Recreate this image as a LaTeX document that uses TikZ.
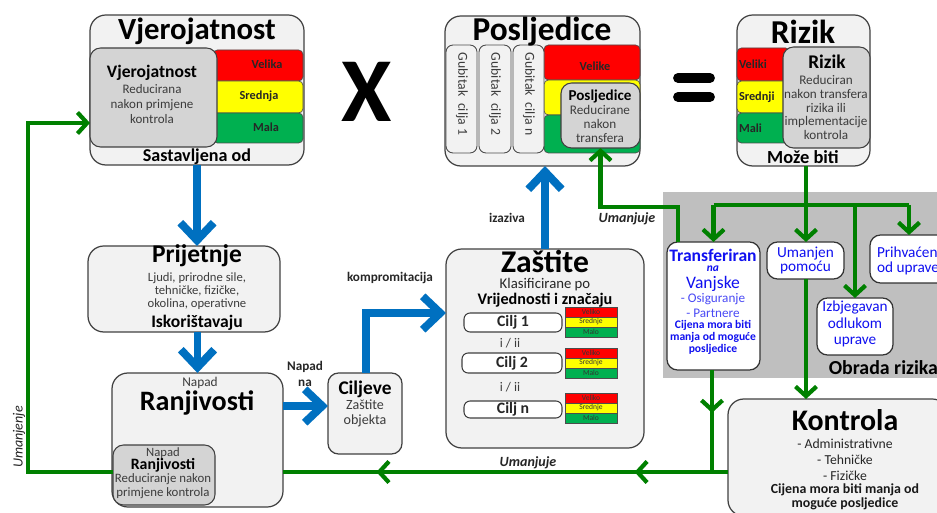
\documentclass[tikz,border=0pt]{standalone}
\usepackage{fontspec}
\setmainfont{Carlito}
\usetikzlibrary{arrows.meta,fit,decorations.markings}

\definecolor{panelfill}{HTML}{F2F2F2}
\definecolor{innerfill}{HTML}{D4D4D4}
\definecolor{barred}{HTML}{FF0000}
\definecolor{baryellow}{HTML}{FFFF00}
\definecolor{bargreen}{HTML}{00B050}
\definecolor{zonegray}{HTML}{BFBFBF}
\definecolor{flowblue}{HTML}{0070C0}
\definecolor{flowgreen}{HTML}{008000}
\definecolor{txtblue}{HTML}{1010F0}
\definecolor{txtlightblue}{HTML}{4A4AF5}
\definecolor{txtgray}{HTML}{3C3C3C}

\newcommand\setfs[2]{\fontsize{#1}{#2}\selectfont}

\tikzset{
  panel/.style={draw=black!75, line width=0.7pt, fill=panelfill, rounded corners=9pt, inner sep=0pt, outer sep=0pt},
  innerbox/.style={draw=black!75, line width=0.6pt, fill=innerfill, rounded corners=6pt, inner sep=0pt, outer sep=0pt},
  bar/.style={draw=black!70, line width=0.4pt, rounded corners=2.5pt, inner sep=0pt, outer sep=0pt},
  minibar/.style={draw=black!70, line width=0.3pt, inner sep=0pt, outer sep=0pt},
  gub/.style={draw=black!70, line width=0.5pt, fill=panelfill, rounded corners=4pt, inner sep=0pt, outer sep=0pt},
  whitebox/.style={draw=black!80, line width=0.7pt, fill=white, rounded corners=6pt, inner sep=0pt, outer sep=0pt},
  ciljbox/.style={draw=black!75, line width=0.6pt, fill=white, rounded corners=3.5pt, inner sep=0pt, outer sep=0pt},
  zone/.style={fill=zonegray, inner sep=0pt, outer sep=0pt},
  title/.style={inner sep=0pt, outer sep=0pt, align=center, text=black},
  txt/.style={inner sep=0pt, outer sep=0pt, align=center, text=txtgray},
  barlbl/.style={inner sep=0pt, outer sep=0pt, font=\bfseries\setfs{7}{8}, text=black!85},
  minilbl/.style={inner sep=0pt, outer sep=0pt, font=\setfs{4.3}{5}, text=black!80},
  flowlbl/.style={inner sep=0pt, outer sep=0pt, align=center, font=\bfseries\setfs{7.5}{9}, text=black!85},
  bluetxt/.style={inner sep=0pt, outer sep=0pt, align=center, text=txtblue},
  bluearrow/.style={draw=flowblue, color=flowblue, line width=4.5pt, -{Straight Barb[length=10pt,width=19pt]}},
  greenline/.style={draw=flowgreen, color=flowgreen, line width=2.4pt},
  greenarrow/.style={greenline, -{Straight Barb[length=5.5pt,width=12pt]}},
  midarrows/.style 2 args={postaction={decorate}, decoration={markings,
      mark=at position #1 with {\arrow{Straight Barb[length=5.5pt,width=12pt]}},
      mark=at position #2 with {\arrow{Straight Barb[length=5.5pt,width=12pt]}}}},
  midarrow/.style={postaction={decorate}, decoration={markings,
      mark=at position #1 with {\arrow{Straight Barb[length=5.5pt,width=12pt]}}}}
}

\begin{document}
\begin{tikzpicture}[x=0.02cm, y=-0.02cm]
\useasboundingbox (0,0) rectangle (937,513);

% risk treatment zone
\node[zone, fit={(663,192) (945,378)}] (zone) {};
\node[title, anchor=east, font=\bfseries\setfs{11.3}{13}] (zone-t) at (938,368) {Obrada rizika};

% ---------- Vjerojatnost ----------
\node[panel, fit={(90,15) (304,165)}] (vjer) {};
\node[bar, fill=barred, fit={(213,50) (303,81)}] (vred) {};
\node[bar, fill=baryellow, fit={(213,81) (303,113)}] (vyel) {};
\node[bar, fill=bargreen, fit={(213,113) (303,143)}] (vgrn) {};
\node[innerbox, fit={(90,48) (217,147)}] (vinner) {};
\node[title, font=\bfseries\setfs{17.5}{20}] (vjer-t) at (197,31) {Vjerojatnost};
\node[title, font=\bfseries\setfs{10.3}{12}] (vjer-b) at (197,157) {Sastavljena od};
\node[title, font=\bfseries\setfs{10}{12}] (vin-t) at (152,73) {Vjerojatnost};
\node[txt, font=\setfs{7.4}{8.3}] (vin-d) at (152,104) {Reducirana\\nakon primjene\\kontrola};
\node[barlbl] (vred-t) at (267,64) {Velika};
\node[barlbl] (vyel-t) at (259,96) {Srednja};
\node[barlbl] (vgrn-t) at (266,127) {Mala};

% multiplication and equality signs
\node[title, font=\bfseries\setfs{52}{52}] (times) at (367,92) {X};
\draw[line width=5.6pt, line cap=round] (678,78) -- (710,78) (678,97) -- (710,97);

% ---------- Posljedice ----------
\node[panel, fit={(445,16) (640,166)}] (posl) {};
\node[bar, fill=barred, fit={(544,45) (640,80)}] (pred) {};
\node[bar, fill=baryellow, fit={(544,80) (640,115)}] (pyel) {};
\node[bar, fill=bargreen, fit={(544,115) (640,153)}] (pgrn) {};
\node[gub, fit={(446,45) (477,153)}] (g1) {};
\node[gub, fit={(479,45) (511,153)}] (g2) {};
\node[gub, fit={(513,45) (544,153)}] (g3) {};
\node[txt, rotate=-90, font=\setfs{7.8}{9}] (g1-t) at (462,94) {Gubitak\enspace cilja 1};
\node[txt, rotate=-90, font=\setfs{7.8}{9}] (g2-t) at (495,94) {Gubitak\enspace cilja 2};
\node[txt, rotate=-90, font=\setfs{7.8}{9}] (g3-t) at (529,94) {Gubitak\enspace cilja n};
\node[innerbox, fit={(561,83) (640,148)}] (pinner) {};
\node[title, font=\bfseries\setfs{19}{21}] (posl-t) at (542,32) {Posljedice};
\node[barlbl] (pred-t) at (595,66) {Velike};
\node[title, font=\bfseries\setfs{8.6}{10}] (pin-t) at (600,96) {Posljedice};
\node[txt, font=\setfs{7.5}{8}] (pin-d) at (600,124) {Reducirane\\nakon\\transfera};

% ---------- Rizik ----------
\node[panel, fit={(737,15) (870,166)}] (rizik) {};
\node[bar, fill=barred, fit={(737,48) (790,81)}] (rred) {};
\node[bar, fill=baryellow, fit={(737,81) (790,113)}] (ryel) {};
\node[bar, fill=bargreen, fit={(737,113) (790,143)}] (rgrn) {};
\node[innerbox, fit={(783,47) (870,148)}] (rinner) {};
\node[title, font=\bfseries\setfs{19}{21}] (rizik-t) at (803,32) {Rizik};
\node[barlbl, anchor=west] (rred-t) at (739,64) {Veliki};
\node[barlbl, anchor=west] (ryel-t) at (739,97) {Srednji};
\node[barlbl, anchor=west] (rgrn-t) at (739,128) {Mali};
\node[title, font=\bfseries\setfs{11}{12}] (rin-t) at (827,62) {Rizik};
\node[txt, font=\setfs{7.5}{7.8}] (rin-d) at (826,107.5) {Reduciran\\nakon transfera\\rizika ili\\implementacije\\kontrola};
\node[title, font=\bfseries\setfs{10.5}{12}] (rizik-b) at (803,157) {Može biti};

% ---------- Prijetnje ----------
\node[panel, fit={(88,246) (280,332)}] (prij) {};
\node[title, font=\bfseries\setfs{14.5}{16}] (prij-t) at (197,256) {Prijetnje};
\node[txt, font=\setfs{7.2}{7.4}] (prij-d) at (197,291) {Ljudi, prirodne sile,\\tehničke, fizičke,\\okolina, operativne};
\node[title, font=\bfseries\setfs{10}{12}] (prij-b) at (197,323) {Iskorištavaju};

% ---------- Ranjivosti ----------
\node[panel, fit={(112,373) (283,507)}] (ranj) {};
\node[txt, font=\setfs{7.6}{9}] (ranj-n) at (200,383) {Napad};
\node[title, font=\bfseries\setfs{16}{18}] (ranj-t) at (197,403) {Ranjivosti};
\node[innerbox, fit={(113,445) (215,505)}] (rjinner) {};
\node[txt, font=\setfs{7.2}{9}] (rji-n) at (163,453) {Napad};
\node[title, font=\bfseries\setfs{9}{10}] (rji-t) at (163,465) {Ranjivosti};
\node[txt, font=\setfs{7.3}{8}] (rji-d) at (163,486) {Reduciranje nakon\\primjene kontrola};

% ---------- Ciljeve ----------
\node[panel, rounded corners=6pt, fit={(328,373) (402,454)}] (cilj) {};
\node[title, font=\bfseries\setfs{11}{12}] (cilj-t) at (365,389) {Ciljeve};
\node[txt, font=\setfs{8}{8.5}] (cilj-d) at (365,413.5) {Zaštite\\objekta};

% ---------- Zaštite ----------
\node[panel, fit={(446,249) (644,448)}] (zast) {};
\node[title, font=\bfseries\setfs{18}{20}] (zast-t) at (545,261) {Zaštite};
\node[txt, text=black!85, font=\setfs{8.4}{10}] (zast-k) at (545,285) {Klasificirane po};
\node[title, font=\bfseries\setfs{9.2}{11}] (zast-v) at (545,300.5) {Vrijednosti i značaju};
\node[ciljbox, fit={(464,313) (562,332)}] (c1) {};
\node[ciljbox, fit={(462,353) (562,373)}] (c2) {};
\node[ciljbox, fit={(464,401) (562,418)}] (cn) {};
\node[title, text=black!85, font=\bfseries\setfs{9}{10}] at (c1) (c1-t) {Cilj 1};
\node[title, text=black!85, font=\bfseries\setfs{9}{10}] at (c2) (c2-t) {Cilj 2};
\node[title, text=black!85, font=\bfseries\setfs{9}{10}] at (cn) (cn-t) {Cilj n};
\node[txt, font=\setfs{7.5}{9}] (or1) at (510,343) {i / ii};
\node[txt, font=\setfs{7.5}{9}] (or2) at (510,387) {i / ii};
\foreach \k/\y in {1/307, 2/348, 3/393} {
  \node[minibar, fill=barred, fit={(565,\y) (617,\y+10)}] (m\k a) {};
  \node[minibar, fill=baryellow, fit={(565,\y+10) (617,\y+20)}] (m\k b) {};
  \node[minibar, fill=bargreen, fit={(565,\y+20) (617,\y+30)}] (m\k c) {};
  \node[minilbl] at (m\k a) (m\k a-t) {Veliko};
  \node[minilbl] at (m\k b) (m\k b-t) {Srednje};
  \node[minilbl] at (m\k c) (m\k c-t) {Malo};
}

% ---------- risk treatment options ----------
\node[whitebox, fit={(667,242) (760,370)}] (trans) {};
\node[bluetxt, font=\bfseries\setfs{10}{11}] (trans-t) at (713,255) {Transferiran};
\node[bluetxt, font=\bfseries\itshape\setfs{6.5}{7}] (trans-na) at (713,269) {na};
\node[bluetxt, font=\setfs{10}{11}] (trans-v) at (713,284) {Vanjske};
\node[bluetxt, text=txtlightblue, font=\setfs{7.5}{8.3}] (trans-o) at (713,305.5) {- Osiguranje\\- Partnere};
\node[bluetxt, font=\bfseries\setfs{6.6}{6.9}] (trans-c) at (713,337.5) {Cijena mora biti\\manja od moguće\\posljedice};

\node[whitebox, fit={(767,242) (844,279)}] (uman) {};
\node[bluetxt, font=\setfs{8.7}{8.5}] (uman-t) at (uman) {Umanjen\\pomoću};

\node[whitebox, fit={(870,235) (948,283)}] (prih) {};
\node[bluetxt, align=left, anchor=west, font=\setfs{8.7}{9}] (prih-t) at (877,261) {Prihvaćen\\od uprave};

\node[whitebox, fit={(817,298) (893,355)}] (izbj) {};
\node[bluetxt, font=\setfs{8.7}{9.6}] (izbj-t) at (855,324) {Izbjegavan\\odlukom\\uprave};

% ---------- Kontrola ----------
\node[panel, fit={(728,399) (948,516)}] (kontrola) {};
\node[title, font=\bfseries\setfs{17}{19}] (kon-t) at (845,420) {Kontrola};
\node[txt, text=black!85, font=\setfs{7.8}{9}] (kon-d) at (845,459.5) {- Administrativne\\- Tehničke\\- Fizičke};
\node[title, text=black!90, font=\bfseries\setfs{7.9}{8}] (kon-c) at (845,496.5) {Cijena mora biti manja od\\moguće posljedice};

% ---------- blue flow ----------
\coordinate (rc) at (300,406);
\coordinate (kc) at (366,313);
\draw[bluearrow] (vjer.south) -- (vjer.south |- prij.north);
\draw[bluearrow] (prij.south -| ranj.north) -- (ranj.north);
\draw[bluearrow] (ranj.east |- rc) -- (cilj.west |- rc);
\draw[bluearrow] (cilj.north -| kc) -- (kc) -- (zast.west |- kc);
\draw[bluearrow] (zast.north) -- (zast.north |- posl.south);
\node[flowlbl] (napad-l) at (305,374) {Napad\\na};
\node[flowlbl] (komp-l) at (390,278) {kompromitacija};
\node[flowlbl] (izaz-l) at (507,218) {izaziva};

% ---------- green flow ----------
\coordinate (tjun) at (806,205);
\coordinate (tp) at (678,207);
\coordinate (bj) at (712,472);
\coordinate (lb) at (28,472);
\coordinate (lt) at (28,123);
\draw[greenline] (rizik.south -| tjun) -- (tjun);
\draw[greenline] (trans.north |- tjun) -- (prih.north |- tjun);
\draw[greenarrow] (trans.north |- tjun) -- (trans.north);
\draw[greenarrow] (tjun) -- (uman.north -| tjun);
\draw[greenarrow] (izbj.north |- tjun) -- (izbj.north);
\draw[greenarrow] (prih.north |- tjun) -- (prih.north);
\draw[greenarrow] (uman.south -| tjun) -- (kontrola.north -| tjun);
\draw[greenarrow] (trans.north -| tp) -- (tp) -- (tp -| pinner.south) -- (pinner.south);
\draw[greenline, midarrow=0.42] (trans.south -| bj) -- (bj);
\draw[greenline, midarrows={0.21}{0.79}] (kontrola.west |- bj) -- (ranj.east |- bj);
\draw[greenarrow] (rjinner.west |- lb) -- (lb) -- (lt) -- (vinner.west |- lt);
\node[flowlbl, font=\bfseries\itshape\setfs{8}{9}] (uman-l1) at (627,219) {Umanjuje};
\node[flowlbl, font=\bfseries\itshape\setfs{8}{9}] (uman-l2) at (528,463) {Umanjuje};
\node[flowlbl, font=\itshape\setfs{8}{9}, rotate=90] (uman-l3) at (19,437) {Umanjenje};

\end{tikzpicture}
\end{document}
